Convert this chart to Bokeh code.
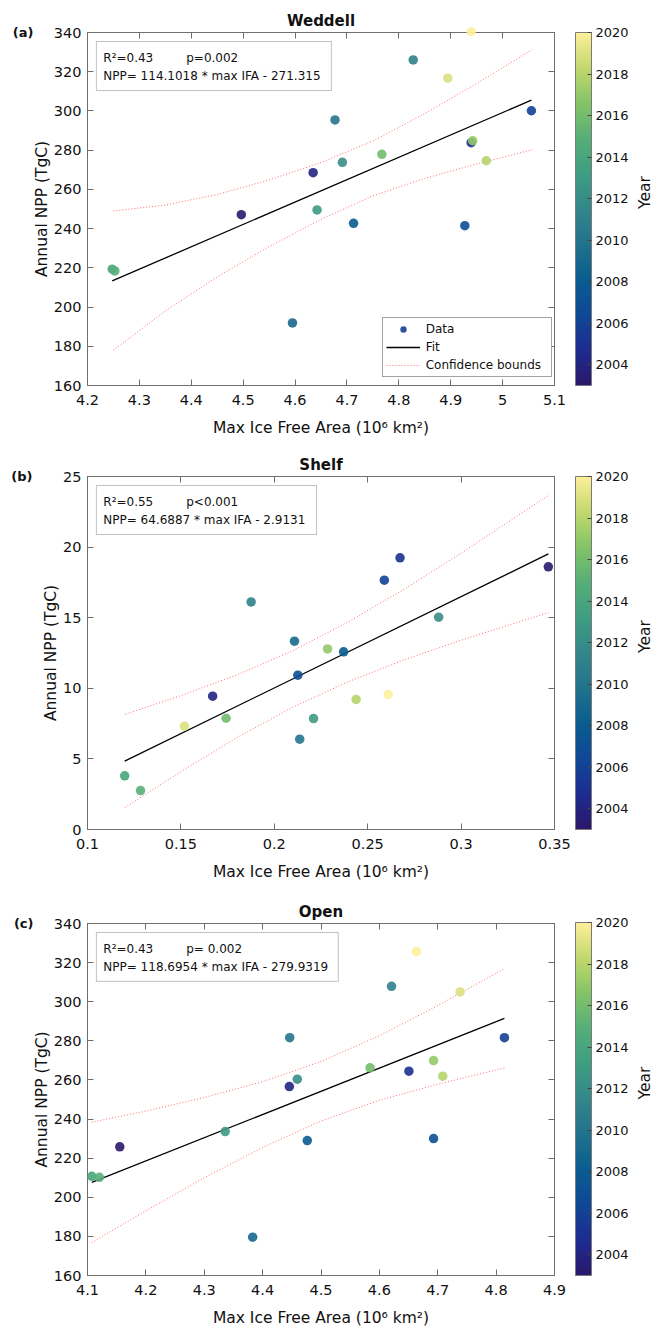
import numpy as np
from bokeh.plotting import figure
from bokeh.models import (ColumnDataSource, LinearAxis, Label, BoxAnnotation, Legend,
                          LegendItem, ColorBar, LinearColorMapper, FixedTicker,
                          CustomJSTickFormatter, Range1d)
from bokeh.layouts import column
from bokeh.embed import file_html
from bokeh.resources import INLINE

# ---------------- data ----------------
years = [2003, 2004, 2005, 2006, 2007, 2008, 2009, 2010, 2011,
         2012, 2013, 2014, 2015, 2016, 2017, 2018, 2019, 2020]

wed_area = [4.4964, 4.6348, 4.9394, 5.0555, 4.9272, 4.7128, 4.5950, 4.6770, 4.8277,
            4.6912, 4.6424, 4.2476, 4.2527, 4.7673, 4.9424, 4.9685, 4.8943, 4.9394]
wed_npp = [247.1, 268.5, 283.8, 300.1, 241.5, 242.7, 191.9, 295.4, 326.0,
           273.8, 249.5, 219.3, 218.4, 277.9, 284.8, 274.6, 316.7, 340.4]

shelf_area = [0.3467, 0.1670, 0.2673, 0.2589, 0.2126, 0.2371, 0.2108, 0.2136, 0.1876,
              0.2880, 0.2210, 0.1199, 0.1284, 0.1742, 0.2285, 0.2438, 0.1519, 0.2610]
shelf_npp = [18.60, 9.44, 19.24, 17.66, 10.93, 12.58, 13.34, 6.40, 16.12,
             15.04, 7.86, 3.80, 2.76, 7.88, 12.79, 9.21, 7.32, 9.56]

open_area = [4.1553, 4.4458, 4.6506, 4.8142, 4.6929, 4.4765, 4.3829, 4.4464, 4.6208,
             4.4594, 4.3359, 4.1074, 4.1203, 4.5840, 4.6929, 4.7086, 4.7384, 4.6635]
open_npp = [225.8, 256.6, 264.5, 281.6, 230.0, 229.0, 179.6, 281.6, 307.9,
            260.4, 233.6, 210.7, 210.2, 266.2, 269.9, 261.9, 305.0, 325.7]

# regression coefficients (from the printed equations)
wed_fit = (114.1018, -271.315)
shelf_fit = (64.6887, -2.9131)
open_fit = (118.6954, -279.9319)

# confidence bounds
wed_ci_x = [4.25, 4.35, 4.45, 4.55, 4.65, 4.75, 4.85, 4.95, 5.057]
wed_ci_hi = [249.0, 252.0, 257.4, 264.8, 273.7, 284.7, 298.6, 314.0, 331.2]
wed_ci_lo = [178.0, 198.0, 215.4, 230.8, 244.7, 256.7, 265.6, 273.0, 280.2]

shelf_ci_x = [0.12, 0.15, 0.18, 0.21, 0.24, 0.27, 0.30, 0.3467]
shelf_ci_hi = [8.15, 9.48, 10.95, 12.67, 14.73, 17.06, 19.57, 23.66]
shelf_ci_lo = [1.55, 4.10, 6.51, 8.67, 10.49, 12.04, 13.41, 15.36]

open_ci_x = [4.107, 4.2, 4.3, 4.4, 4.5, 4.6, 4.7, 4.8142]
open_ci_hi = [238.4, 244.1, 251.0, 259.1, 269.4, 282.6, 298.0, 316.9]
open_ci_lo = [176.8, 193.1, 210.0, 225.5, 239.0, 249.6, 257.8, 266.1]

wed_xticks = [4.2, 4.3, 4.4, 4.5, 4.6, 4.7, 4.8, 4.9, 5.0, 5.1]
wed_yticks = [160, 180, 200, 220, 240, 260, 280, 300, 320, 340]
shelf_xticks = [0.1, 0.15, 0.2, 0.25, 0.3, 0.35]
shelf_yticks = [0, 5, 10, 15, 20, 25]
open_xticks = [4.1, 4.2, 4.3, 4.4, 4.5, 4.6, 4.7, 4.8, 4.9]
open_yticks = [160, 180, 200, 220, 240, 260, 280, 300, 320, 340]
cbar_ticks = [2004, 2006, 2008, 2010, 2012, 2014, 2016, 2018, 2020]

# ---------------- style ----------------
FONT = "DejaVu Sans"
AX = "#6e6e6e"
TXT = "#111111"
FW, FH = 473, 353
W = 665
LEFT = 87

stops = ["#2a186c", "#1e2c91", "#0f4896", "#0a5d90", "#22728c", "#33878a",
         "#3f9d82", "#55ae78", "#83c468", "#c1d86c", "#fdef9a"]
pos = np.linspace(0, 1, len(stops))
rgb = np.array([[int(s[i:i + 2], 16) for i in (1, 3, 5)] for s in stops], dtype=float)
PALETTE = ["#%02x%02x%02x" % tuple(int(round(np.interp(t, pos, rgb[:, k]))) for k in range(3))
           for t in np.linspace(0, 1, 256)]
mapper = LinearColorMapper(palette=PALETTE, low=2003, high=2020)


def to_x(px, xr):
    return xr[0] + px * (xr[1] - xr[0]) / FW


def to_y(py, yr):
    return yr[1] - py * (yr[1] - yr[0]) / FH


def style_axis(ax, ticks, show, sd=0):
    ax.ticker = FixedTicker(ticks=ticks)
    ax.axis_line_color = AX
    ax.major_tick_line_color = AX
    ax.major_tick_in = 6
    ax.major_tick_out = 0
    ax.minor_tick_line_color = None
    if show:
        ax.formatter = CustomJSTickFormatter(code="return String(Math.round(tick*1000)/1000);")
        ax.major_label_text_font = FONT
        ax.major_label_text_font_size = "14.5px"
        ax.major_label_text_color = TXT
        ax.major_label_standoff = sd
    else:
        ax.formatter = CustomJSTickFormatter(code="return '';")
        ax.major_label_text_font_size = "0px"
        ax.major_label_standoff = 0


def text_axis(tick, text, size, bold, sd, orient):
    """An axis with no line and no ticks, used only to place one text outside the frame."""
    ax = LinearAxis(ticker=FixedTicker(ticks=[tick]),
                    formatter=CustomJSTickFormatter(code="return %r;" % text))
    ax.axis_line_color = None
    ax.major_tick_line_color = None
    ax.minor_tick_line_color = None
    ax.major_tick_in = 0
    ax.major_tick_out = 0
    ax.major_label_standoff = sd
    ax.major_label_text_font = FONT
    ax.major_label_text_font_size = size
    ax.major_label_text_color = TXT
    ax.major_label_text_font_style = "bold" if bold else "normal"
    ax.major_label_orientation = orient
    return ax


def make_panel(tag, tag_sd, name, xr, yr, xticks, yticks, xs, ys, fit, ci_x, ci_hi, ci_lo,
               r2, pv, eq, box_w, top, height, x_sd, xl_sd, with_legend):
    bottom = height - top - FH
    p = figure(width=W, height=height, x_range=Range1d(*xr), y_range=Range1d(*yr),
               output_backend="svg", toolbar_location=None,
               min_border_left=LEFT, min_border_right=W - LEFT - FW,
               min_border_top=top, min_border_bottom=bottom)
    p.grid.visible = False
    p.outline_line_color = AX
    p.background_fill_color = "white"
    p.border_fill_color = "white"

    p.title.text = name
    p.title.align = "center"
    p.title.text_font = FONT
    p.title.text_font_size = "15px"
    p.title.text_font_style = "bold"
    p.title.text_color = TXT
    p.title.standoff = 6

    style_axis(p.xaxis[0], xticks, True, x_sd)
    style_axis(p.yaxis[0], yticks, True, 6)
    p.xaxis.axis_label = "Max Ice Free Area (10\u2076 km\u00b2)"
    p.yaxis.axis_label = "Annual NPP (TgC)"
    for ax in (p.xaxis[0], p.yaxis[0]):
        ax.axis_label_text_font = FONT
        ax.axis_label_text_font_style = "normal"
        ax.axis_label_text_color = TXT
        ax.axis_label_text_font_size = "15.5px"
    p.xaxis.axis_label_standoff = xl_sd
    p.yaxis.axis_label_standoff = 0

    top_ax = LinearAxis()
    style_axis(top_ax, xticks, False)
    p.add_layout(top_ax, "above")
    right_ax = LinearAxis()
    style_axis(right_ax, yticks, False)
    p.add_layout(right_ax, "right")

    # panel tag, placed left of the y-axis label, level with the top of the frame
    p.add_layout(text_axis(yr[1], tag, "13px", True, tag_sd, "horizontal"), "left")

    # confidence bounds and fit
    ci_hi_r = p.line(ci_x, ci_hi, line_color="#ff3030", line_alpha=0.7, line_width=1, line_dash="1 2")
    p.line(ci_x, ci_lo, line_color="#ff3030", line_alpha=0.7, line_width=1, line_dash="1 2")
    fx = [min(xs), max(xs)]
    fy = [fit[0] * v + fit[1] for v in fx]
    fit_r = p.line(fx, fy, line_color="black", line_width=1.3)

    src = ColumnDataSource(dict(x=xs, y=ys, year=years))
    sc = p.scatter("x", "y", source=src, size=9.5,
                   fill_color={"field": "year", "transform": mapper},
                   line_color=None, fill_alpha=0.9, level="overlay")

    # statistics box
    p.add_layout(BoxAnnotation(left=to_x(9, xr), right=to_x(9 + box_w, xr),
                               top=to_y(9, yr), bottom=to_y(58, yr),
                               fill_color="white", fill_alpha=1.0,
                               line_color="#333333", line_width=1))
    common = dict(text_font=FONT, text_font_size="12px", text_color=TXT,
                  text_baseline="middle", text_align="left")
    p.add_layout(Label(x=to_x(16, xr), y=to_y(25.5, yr), text=r2, **common))
    p.add_layout(Label(x=to_x(100, xr), y=to_y(25.5, yr), text=pv, **common))
    p.add_layout(Label(x=to_x(16, xr), y=to_y(43.5, yr), text=eq, **common))

    # colour bar
    cb = ColorBar(color_mapper=mapper, ticker=FixedTicker(ticks=cbar_ticks),
                  width=16, height=FH, location=(21, 0), padding=0, margin=0,
                  major_label_text_font=FONT, major_label_text_font_size="13px",
                  major_label_text_color=TXT, label_standoff=4,
                  major_tick_in=4, major_tick_out=0, major_tick_line_color="#444444",
                  minor_tick_line_color=None,
                  bar_line_color="#7a7a7a", bar_line_width=1,
                  border_line_color=None, background_fill_color=None)
    p.add_layout(cb, "right")
    p.add_layout(text_axis((yr[0] + yr[1]) / 2, "Year", "15.5px", False, 13, np.pi / 2), "right")

    if with_legend:
        leg = Legend(items=[LegendItem(label="Data", renderers=[sc], index=3),
                            LegendItem(label="Fit", renderers=[fit_r]),
                            LegendItem(label="Confidence bounds", renderers=[ci_hi_r])],
                     location=(294.7, 7.7), orientation="vertical",
                     border_line_color="#444444", border_line_width=1,
                     background_fill_color="white", background_fill_alpha=1.0,
                     label_text_font=FONT, label_text_font_size="12px", label_text_color=TXT,
                     glyph_width=34, glyph_height=16, label_height=16, label_width=122,
                     label_standoff=6, spacing=2, padding=3, margin=0)
        p.add_layout(leg)
    return p


pa = make_panel("(a)", -4, "Weddell", (4.2, 5.1), (160, 340), wed_xticks, wed_yticks,
                wed_area, wed_npp, wed_fit, wed_ci_x, wed_ci_hi, wed_ci_lo,
                "R\u00b2=0.43", "p=0.002", "NPP= 114.1018 * max IFA - 271.315",
                238, 32, 440, 9, 11, True)
pb = make_panel("(b)", 7, "Shelf", (0.1, 0.35), (0, 25), shelf_xticks, shelf_yticks,
                shelf_area, shelf_npp, shelf_fit, shelf_ci_x, shelf_ci_hi, shelf_ci_lo,
                "R\u00b2=0.55", "p<0.001", "NPP= 64.6887 * max IFA - 2.9131",
                223, 36, 445, 9, 11, False)
pc = make_panel("(c)", -4, "Open", (4.1, 4.9), (160, 340), open_xticks, open_yticks,
                open_area, open_npp, open_fit, open_ci_x, open_ci_hi, open_ci_lo,
                "R\u00b2=0.43", "p= 0.002", "NPP= 118.6954 * max IFA - 279.9319",
                245, 38, 444, 9, 11, False)

layout = column(pa, pb, pc)
open("out.html", "w").write(file_html(layout, INLINE))
